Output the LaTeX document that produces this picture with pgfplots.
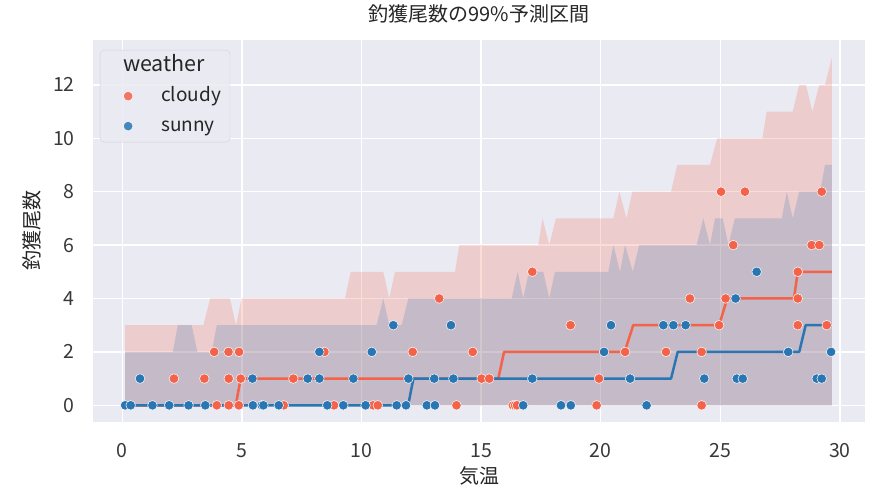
\documentclass[border=0pt]{standalone}
\usepackage{fontspec}
\setmainfont{Noto Sans CJK JP}
\usepackage{pgfplots}
\pgfplotsset{compat=1.18}
\definecolor{bgcol}{HTML}{EAEAF2}
\definecolor{cloudy}{HTML}{F4624A}
\definecolor{sunny}{HTML}{2A76B3}
\definecolor{legedge}{HTML}{D2D2DA}
\begin{document}
\begin{tikzpicture}
\useasboundingbox (0,0) rectangle (879pt,493pt);
\begin{axis}[
  at={(93pt,71pt)}, anchor=south west,
  scale only axis, width=772pt, height=382pt,
  xmin=-1.225, xmax=31.05, ymin=-0.625, ymax=13.68,
  xtick={0,5,...,30}, ytick={0,2,...,12},
  /pgf/number format/assume math mode=true,
  axis background/.style={fill=bgcol},
  axis line style={draw=none},
  major tick length=0pt,
  grid=major,
  major grid style={white, line width=1.4pt},
  tick label style={font=\fontsize{19.5}{22}\selectfont, text=black!78},
  xticklabel style={inner sep=0pt, anchor=north, yshift=-21pt},
  yticklabel style={inner sep=0pt, anchor=east, xshift=-18pt},
  title={釣獲尾数の99\%予測区間},
  title style={at={(axis description cs:0.5,1.052)}, anchor=center, inner sep=0pt, font=\fontsize{20}{22}\selectfont, text=black!85},
  xlabel={気温},
  xlabel style={at={(axis description cs:0.5,-0.141)}, anchor=center, inner sep=0pt, font=\fontsize{20}{22}\selectfont, text=black!85},
  ylabel={釣獲尾数},
  ylabel style={at={(axis description cs:-0.079,0.5)}, anchor=center, inner sep=0pt, font=\fontsize{20}{22}\selectfont, text=black!85},
  legend image code/.code={\path[draw=none, fill=none] (0pt,-5pt) rectangle (52pt,5pt); \draw[#1] plot coordinates {(21pt,0pt)};},
  legend cell align=left,
  legend style={at={(axis description cs:0.009,0.974)}, anchor=north west,
    draw=legedge, fill=bgcol, fill opacity=0.85, text opacity=1,
    rounded corners=4pt, inner xsep=7pt, inner ysep=5pt,
    row sep=8pt, column sep=0pt,
    font=\fontsize{19}{22}\selectfont, text=black!85,
    nodes={inner sep=2pt, text height=14pt, text depth=4pt}},
]
\addlegendimage{empty legend}
\addlegendentry{\fontsize{21.5}{22}\selectfont\hspace*{-38pt}weather}

% cloudy observations
\addplot[only marks, mark=*, mark size=4.8pt, mark options={fill=cloudy, draw=white, line width=0.5pt}]
coordinates {
(3.95,0)(4.45,0)(4.87,0)(6.75,0)(8.85,0)(10.49,0)(10.68,0)(13.97,0)(16.33,0)(16.42,0)(16.5,0)(19.83,0)(24.22,0)
(2.16,1)(3.43,1)(4.45,1)(4.95,1)(7.15,1)(15.02,1)(15.34,1)(19.93,1)
(3.84,2)(4.44,2)(4.88,2)(8.45,2)(12.14,2)(14.65,2)(21.02,2)(22.73,2)(24.22,2)
(18.74,3)(24.95,3)(28.24,3)(29.45,3)
(13.25,4)(23.73,4)(25.22,4)(28.24,4)
(17.14,5)(28.24,5)
(25.54,6)(28.82,6)(29.14,6)
(25.03,8)(26.03,8)(29.24,8)
};
\addlegendentry{cloudy}

% sunny observations
\addplot[only marks, mark=*, mark size=4.8pt, mark options={fill=sunny, draw=white, line width=0.5pt}]
coordinates {
(0.12,0)(0.35,0)(1.26,0)(1.96,0)(2.77,0)(3.47,0)(5.46,0)(5.83,0)(5.9,0)(6.54,0)(8.57,0)(9.24,0)(10.17,0)(11.47,0)(11.86,0)(12.73,0)(13.07,0)(16.76,0)(18.34,0)(18.75,0)(21.92,0)
(0.74,1)(5.44,1)(7.75,1)(8.24,1)(9.66,1)(11.96,1)(13.04,1)(13.84,1)(17.14,1)(21.23,1)(24.33,1)(25.69,1)(25.94,1)(29.03,1)(29.24,1)
(8.24,2)(10.43,2)(20.14,2)(27.84,2)(29.63,2)
(11.33,3)(13.74,3)(20.43,3)(22.62,3)(23.04,3)(23.55,3)
(25.64,4)
(26.52,5)
};
\addlegendentry{sunny}

% 99% prediction band, cloudy
\addplot[draw=none, fill=cloudy, fill opacity=0.22, forget plot] coordinates {
(0.12,0)(0.12,3)(3.39,3)(3.67,4)(4.50,4)(4.75,3)(4.99,4)(9.31,4)(9.55,5)(10.91,5)(11.16,4)(11.40,5)
(13.91,5)(14.09,6)(17.39,6)(17.57,7)(17.85,6)(18.13,7)(20.53,7)(20.78,8)(21.08,7)(21.32,8)
(22.94,8)(23.20,9)(24.57,9)(24.87,10)(26.76,10)(26.94,11)(28.03,11)(28.30,12)(28.58,12)(28.85,11)(29.14,12)
(29.38,12)(29.66,13)(29.66,0)
} \closedcycle;

% 99% prediction band, sunny
\addplot[draw=none, fill=sunny, fill opacity=0.2, forget plot] coordinates {
(0.12,0)(0.12,2)(2.11,2)(2.32,3)(2.90,3)(3.14,2)(3.74,2)(3.95,3)(10.63,3)(10.91,4)(11.16,3)(11.68,3)(11.96,4)
(16.28,4)(16.53,5)(16.76,4)(17.0,5)(17.6,5)(17.85,4)(18.09,5)
(20.32,5)(20.53,6)(20.81,5)(21.02,6)(21.34,5)(21.61,6)
(24.01,6)(24.29,7)(24.57,6)(24.78,7)(25.10,7)(25.34,6)(25.61,7)
(27.57,7)(27.78,8)(28.03,7)(28.30,8)(29.17,8)(29.38,9)(29.66,9)(29.66,0)
} \closedcycle;

% median lines
\addplot[cloudy, line width=2.5pt, line join=round, forget plot] coordinates {
(0.12,0)(4.74,0)(4.95,1)(15.72,1)(15.96,2)(21.0,2)(21.36,3)(24.95,3)(25.29,4)(28.08,4)(28.24,5)(29.66,5)
};
\addplot[sunny, line width=2.5pt, line join=round, forget plot] coordinates {
(0.12,0)(11.95,0)(12.17,1)(22.94,1)(23.22,2)(28.3,2)(28.57,3)(29.66,3)
};
\end{axis}
\end{tikzpicture}
\end{document}
